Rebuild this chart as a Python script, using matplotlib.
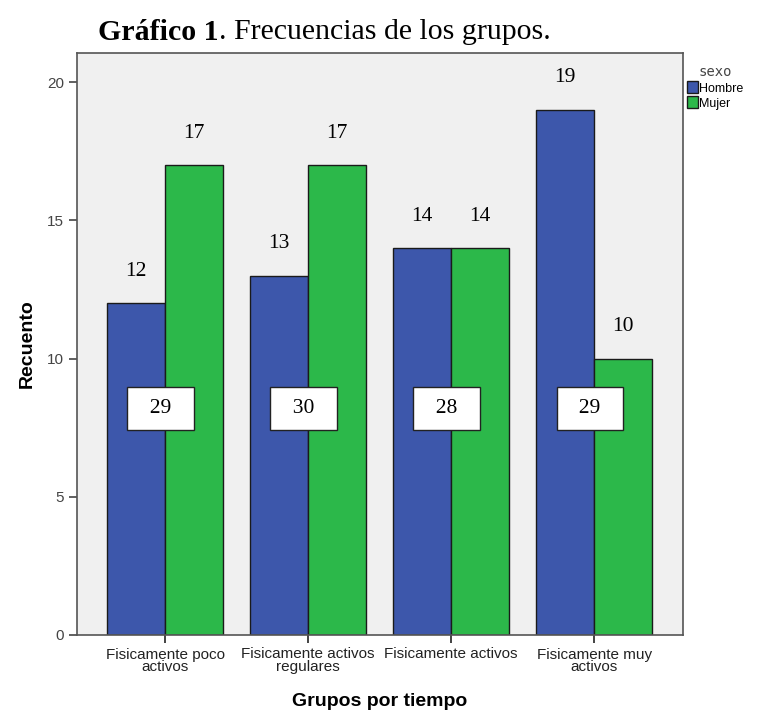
import numpy as np
import matplotlib.pyplot as plt

groups = ['Fisicamente poco\nactivos', 'Fisicamente activos\nregulares',
          'Fisicamente activos', 'Fisicamente muy\nactivos']
hombre = [12, 13, 14, 19]
mujer = [17, 17, 14, 10]
totals = [29, 30, 28, 29]

fig = plt.figure(figsize=(7.59, 7.17), dpi=100)
ax = fig.add_axes([77 / 759, 1 - 635 / 717, 606 / 759, 582 / 717])
ax.set_facecolor('#f0f0f0')

x = np.arange(len(groups))
w = 0.405
b1 = ax.bar(x - w / 2, hombre, w, color='#3d57ab', edgecolor='#1a1a1a', linewidth=1.0, label='Hombre')
b2 = ax.bar(x + w / 2, mujer, w, color='#2cb84a', edgecolor='#1a1a1a', linewidth=1.0, label='Mujer')

for bars in (b1, b2):
    for r in bars:
        ax.text(r.get_x() + r.get_width() / 2, r.get_height() + 1.15, str(int(r.get_height())),
                ha='center', va='center', fontsize=15.5, family='Liberation Serif')

for i, t in enumerate(totals):
    ax.text(x[i] - 0.03, 8.2, '  %d  ' % t, ha='center', va='center', fontsize=15.5,
            family='Liberation Serif',
            bbox=dict(boxstyle='square,pad=0.55', facecolor='white', edgecolor='#222222', linewidth=1.0))

ax.set_xlim(-0.615, 3.62)
ax.set_ylim(0, 21.05)
ax.set_yticks([0, 5, 10, 15, 20])
ax.set_xticks(x)
ax.set_xticklabels(groups, fontsize=11, family='Liberation Sans', color='#222222', linespacing=0.85)
ax.tick_params(axis='y', labelsize=11, colors='#444444', length=6, width=1.2)
ax.tick_params(axis='x', length=6, width=1.2, colors='#222222', pad=3)
for lab in ax.get_yticklabels():
    lab.set_family('Liberation Sans')
for s in ax.spines.values():
    s.set_color('#555555')
    s.set_linewidth(1.2)

ax.set_ylabel('Recuento', fontsize=14, fontweight='bold', family='Liberation Sans', labelpad=8)
ax.set_xlabel('Grupos por tiempo', fontsize=14, fontweight='bold', family='Liberation Sans', labelpad=14)

leg = ax.legend(title='sexo', loc='upper left', bbox_to_anchor=(1.0, 0.985), frameon=False,
                fontsize=9, title_fontsize=10, handlelength=0.9, handleheight=1.1,
                handletextpad=0.1, labelspacing=0.15, borderaxespad=0.1, borderpad=0.2)
leg.get_title().set_family('DejaVu Sans Mono')
leg.get_title().set_color('#444444')
for txt in leg.get_texts():
    txt.set_family('Liberation Sans')

t1 = fig.text(98 / 759, 1 - 32 / 717, 'Gráfico 1', fontsize=21.5, fontweight='bold',
              family='Liberation Serif', va='center')
fig.canvas.draw()
bb = t1.get_window_extent()
fig.text(bb.x1 / 759, 1 - 32 / 717, '. Frecuencias de los grupos.', fontsize=21.5,
         family='Liberation Serif', va='center')

fig.savefig('out.png', dpi=100)
